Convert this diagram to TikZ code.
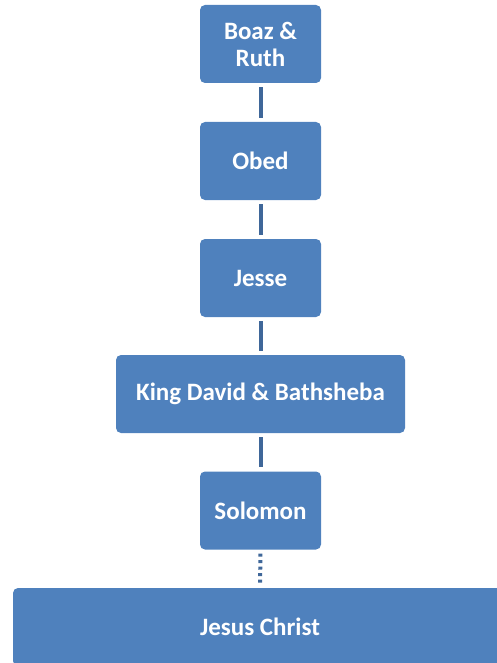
\documentclass[tikz,border=0pt]{standalone}
\usepackage{fontspec}
\setmainfont{Carlito}
\definecolor{boxblue}{HTML}{4F81BD}
\definecolor{linkblue}{HTML}{3F6799}
\begin{document}
\begin{tikzpicture}[x=1pt,y=-1pt]
        \useasboundingbox (0,0) rectangle (496,663);
        %% Boxes
        \tikzset{gen/.style={fill=boxblue,rectangle,rounded corners=5pt,text=white,font=\fontsize{25}{27}\selectfont\bfseries,align=center,inner sep=0pt,minimum width=121pt,minimum height=78pt}}
        \node[gen] (boaz) at (260.5,44) {Boaz \&\\Ruth};
        \node[gen] (obed) at (260.5,161) {Obed};
        \node[gen] (jesse) at (260.5,278) {Jesse};
        \node[gen,minimum width=289pt] (david) at (260.5,394) {King David \& Bathsheba};
        \node[gen] (solomon) at (260.5,510.5) {Solomon};
        \node[gen,minimum width=494pt] (jesus) at (260,627) {Jesus Christ};
        %% Links
        \tikzset{link/.style={linkblue,line width=4pt,shorten <=4pt,shorten >=4pt}}
        \draw[link] (boaz.south) -- (obed.north);
        \draw[link] (obed.south) -- (jesse.north);
        \draw[link] (jesse.south) -- (david.north);
        \draw[link] (david.south) -- (solomon.north);
        \draw[link,dash pattern=on 3pt off 3.5pt] (solomon.south) -- (jesus.north);
    \end{tikzpicture}
\end{document}
